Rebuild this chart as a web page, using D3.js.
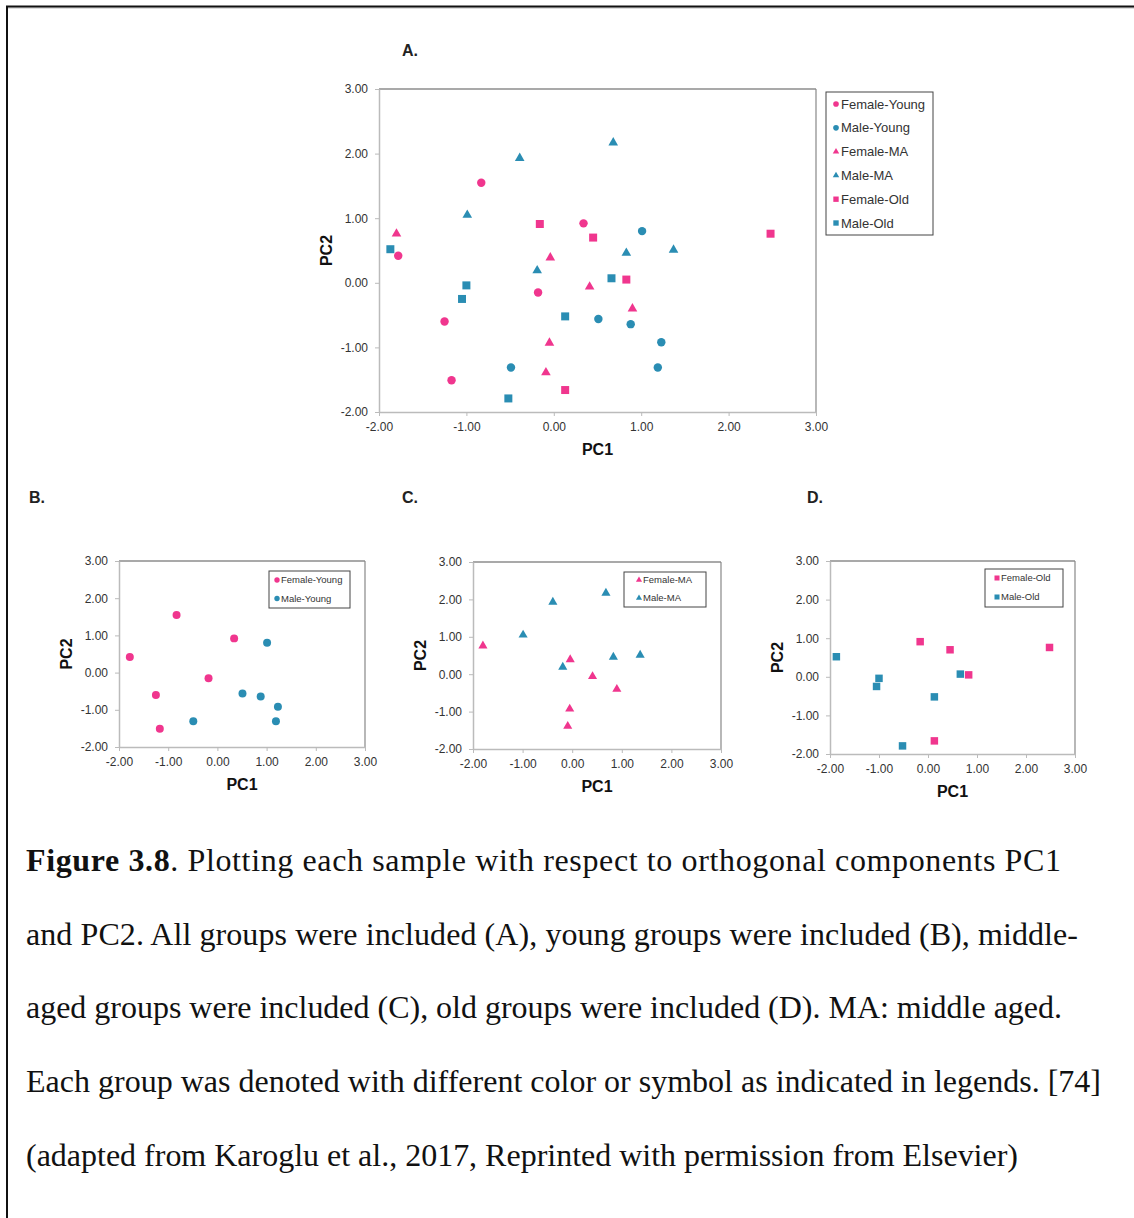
<!DOCTYPE html>
<html>
<head>
<meta charset="utf-8">
<script src="https://cdn.jsdelivr.net/npm/d3@7"></script>
<style>
  body { margin: 0; background: #fff; }
  svg { display: block; font-family: "Liberation Sans", Arial, sans-serif; }
</style>
</head>
<body>
<div id="chart"></div>
<script>
// PC1 / PC2 scores per group
const femaleYoung = [[-0.83, 1.55], [-1.78, 0.42], [0.34, 0.92], [-0.18, -0.15], [-1.25, -0.60], [-1.17, -1.51]];
const maleYoung   = [[1.01, 0.80], [0.51, -0.56], [0.88, -0.64], [1.23, -0.92], [1.19, -1.31], [-0.49, -1.31]];
const femaleMA    = [[-1.80, 0.76], [-0.04, 0.39], [0.41, -0.06], [0.90, -0.40], [-0.05, -0.93], [-0.09, -1.39]];
const maleMA      = [[0.68, 2.17], [-0.39, 1.93], [-0.99, 1.05], [0.83, 0.46], [1.37, 0.51], [-0.19, 0.19]];
const femaleOld   = [[-0.16, 0.91], [0.45, 0.70], [0.83, 0.05], [2.48, 0.76], [0.13, -1.66]];
const maleOld     = [[-1.87, 0.52], [-1.00, -0.04], [-1.05, -0.25], [0.66, 0.07], [0.13, -0.52], [-0.52, -1.79]];

const groupNames = ["Female-Young", "Male-Young", "Female-MA", "Male-MA", "Female-Old", "Male-Old"];
const xTicks = [-2, -1, 0, 1, 2, 3];
const yTicks = [-2, -1, 0, 1, 2, 3];
const panelLabels = ["A.", "B.", "C.", "D."];

const captionLines = [
    [["Figure 3.8", true], [". Plotting each sample with respect to orthogonal components PC1", false]],
    [["and PC2. All groups were included (A), young groups were included (B), middle-", false]],
    [["aged groups were included (C), old groups were included (D). MA: middle aged.", false]],
    [["Each group was denoted with different color or symbol as indicated in legends. [74]", false]],
    [["(adapted from Karoglu et al., 2017, Reprinted with permission from Elsevier)", false]]
];
// line widths as they appear in the reference
const captionWidths = [1035, 1052, 1036, 1075, 992];

const pink = "#f0368e";
const teal = "#2a8db3";

const series = [
    { name: groupNames[0], data: femaleYoung, color: pink, shape: d3.symbolCircle },
    { name: groupNames[1], data: maleYoung, color: teal, shape: d3.symbolCircle },
    { name: groupNames[2], data: femaleMA, color: pink, shape: d3.symbolTriangle },
    { name: groupNames[3], data: maleMA, color: teal, shape: d3.symbolTriangle },
    { name: groupNames[4], data: femaleOld, color: pink, shape: d3.symbolSquare },
    { name: groupNames[5], data: maleOld, color: teal, shape: d3.symbolSquare }
];

// symbol areas (px^2) for the big panel and the small ones
const sizes = {
    big:   { circle: 56, triangle: 40, square: 64, legend: 0.45 },
    small: { circle: 50, triangle: 36, square: 56, legend: 0.45 }
};
function shapeKey(s) {
    return s === d3.symbolCircle ? "circle" : s === d3.symbolTriangle ? "triangle" : "square";
}

const panels = [
    { label: panelLabels[0], lx: 402, ly: 56, left: 379, right: 816, top: 89, bottom: 412, groups: [0, 1, 2, 3, 4, 5], big: true,
      legend: { x: 826, y: 92, w: 107, h: 143, first: 104, step: 23.8, font: 13, mx: 836, tx: 841 } },
    { label: panelLabels[1], lx: 29, ly: 503, left: 119, right: 365, top: 561, bottom: 747, groups: [0, 1],
      legend: { x: 269, y: 571, w: 81, h: 37, first: 580, step: 18.5, font: 9.5, mx: 277, tx: 281 } },
    { label: panelLabels[2], lx: 402, ly: 503, left: 473, right: 721, top: 562, bottom: 749, groups: [2, 3],
      legend: { x: 624, y: 572, w: 82, h: 35, first: 580, step: 18, font: 9.5, mx: 639, tx: 643 } },
    { label: panelLabels[3], lx: 807, ly: 503, left: 830, right: 1075, top: 561, bottom: 754, groups: [4, 5],
      legend: { x: 985, y: 569, w: 78, h: 38, first: 578, step: 19, font: 9.5, mx: 997, tx: 1001 } }
];

const W = 1134, H = 1218;
const svg = d3.select("#chart").append("svg")
    .attr("width", W)
    .attr("height", H);

// outer frame (top and left edges)
svg.append("line").attr("x1", 6).attr("x2", W).attr("y1", 8).attr("y2", 8)
    .attr("stroke", "#bbb").attr("stroke-width", 1);
svg.append("line").attr("x1", 6).attr("x2", W).attr("y1", 6.5).attr("y2", 6.5)
    .attr("stroke", "#111").attr("stroke-width", 2);
svg.append("line").attr("x1", 7).attr("x2", 7).attr("y1", 6).attr("y2", H)
    .attr("stroke", "#111").attr("stroke-width", 2);

const fmt = d => d.toFixed(2);

panels.forEach(p => {
    const x = d3.scaleLinear().domain([-2, 3]).range([p.left, p.right]);
    const y = d3.scaleLinear().domain([-2, 3]).range([p.bottom, p.top]);
    const sz = p.big ? sizes.big : sizes.small;

    svg.append("text")
        .attr("x", p.lx)
        .attr("y", p.ly)
        .attr("font-size", "16px")
        .attr("font-weight", "bold")
        .attr("fill", "#222")
        .text(p.label);

    // top / right border
    svg.append("line").attr("x1", p.left).attr("x2", p.right).attr("y1", p.top).attr("y2", p.top)
        .attr("stroke", "#555").attr("stroke-width", 1.2);
    svg.append("line").attr("x1", p.right).attr("x2", p.right).attr("y1", p.top).attr("y2", p.bottom)
        .attr("stroke", "#888").attr("stroke-width", 1.2);

    const gx = svg.append("g")
        .attr("transform", `translate(0,${p.bottom})`)
        .call(d3.axisBottom(x).tickValues(xTicks).tickFormat(fmt).tickSize(4).tickSizeOuter(0).tickPadding(6));
    const gy = svg.append("g")
        .attr("transform", `translate(${p.left},0)`)
        .call(d3.axisLeft(y).tickValues(yTicks).tickFormat(fmt).tickSize(4).tickSizeOuter(0).tickPadding(7));

    [gx, gy].forEach(g => {
        g.select(".domain").attr("stroke", "#bbb").attr("stroke-width", 1.5);
        g.selectAll(".tick line").attr("stroke", "#bbb");
        g.selectAll(".tick text")
            .attr("fill", "#333")
            .attr("font-size", "12px")
            .attr("font-family", "\"Liberation Sans\", Arial, sans-serif");
    });

    svg.append("text")
        .attr("x", (p.left + p.right) / 2)
        .attr("y", p.bottom + 43)
        .attr("text-anchor", "middle")
        .attr("font-size", "16px")
        .attr("font-weight", "bold")
        .attr("fill", "#111")
        .text("PC1");

    svg.append("text")
        .attr("transform", `translate(${p.left - 47},${(p.top + p.bottom) / 2}) rotate(-90)`)
        .attr("text-anchor", "middle")
        .attr("font-size", "16px")
        .attr("font-weight", "bold")
        .attr("fill", "#111")
        .text("PC2");

    // points
    p.groups.forEach(gi => {
        const s = series[gi];
        svg.append("g").selectAll("path")
            .data(s.data)
            .join("path")
            .attr("transform", d => `translate(${x(d[0])},${y(d[1])})`)
            .attr("d", d3.symbol().type(s.shape).size(sz[shapeKey(s.shape)]))
            .attr("fill", s.color);
    });

    // legend
    const L = p.legend;
    svg.append("rect")
        .attr("x", L.x).attr("y", L.y)
        .attr("width", L.w).attr("height", L.h)
        .attr("fill", "#fff")
        .attr("stroke", "#444")
        .attr("stroke-width", 1);

    p.groups.forEach((gi, k) => {
        const s = series[gi];
        const cy = L.first + k * L.step;
        svg.append("path")
            .attr("transform", `translate(${L.mx},${cy})`)
            .attr("d", d3.symbol().type(s.shape).size(sz[shapeKey(s.shape)] * sz.legend))
            .attr("fill", s.color);
        svg.append("text")
            .attr("x", L.tx)
            .attr("y", cy)
            .attr("dy", "0.35em")
            .attr("font-size", L.font + "px")
            .attr("fill", "#333")
            .text(s.name);
    });
});

// caption
const cap = svg.append("g")
    .attr("font-family", "\"Liberation Serif\", \"Times New Roman\", serif")
    .attr("font-size", "32px")
    .attr("fill", "#111");
captionLines.forEach((parts, i) => {
    const t = cap.append("text")
        .attr("x", 26)
        .attr("y", 871 + i * 73.7)
        .attr("textLength", captionWidths[i])
        .attr("lengthAdjust", "spacing");
    parts.forEach(([str, bold]) => {
        t.append("tspan")
            .attr("font-weight", bold ? "bold" : "normal")
            .text(str);
    });
});
</script>
</body>
</html>
